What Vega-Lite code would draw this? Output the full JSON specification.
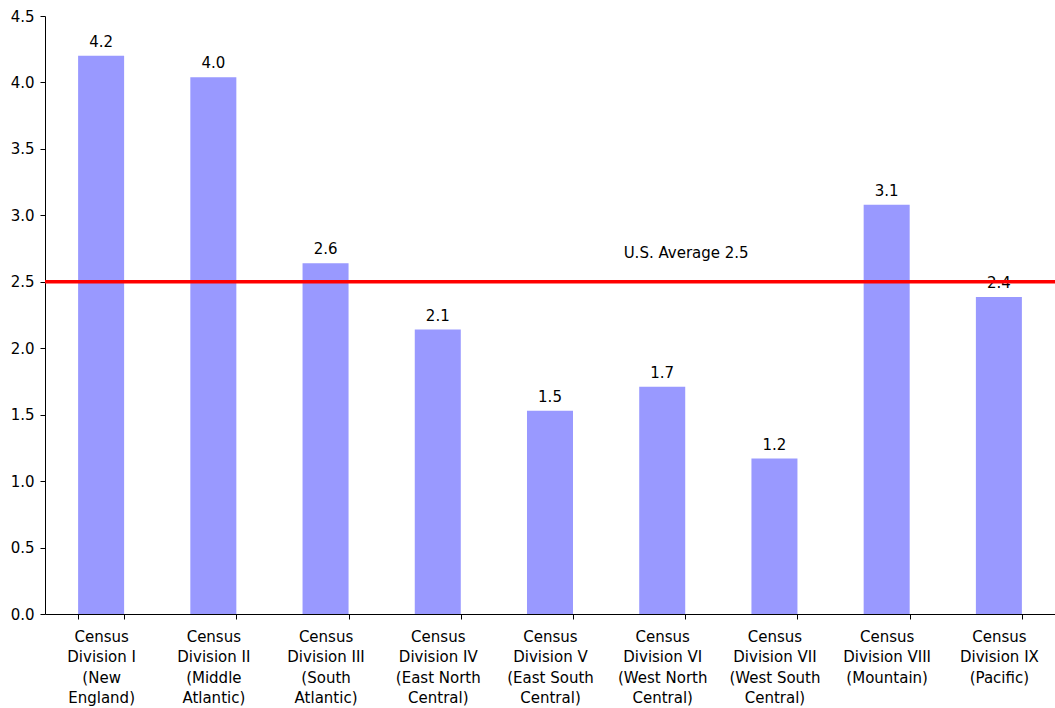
{
  "$schema": "https://vega.github.io/schema/vega-lite/v6.json",
  "width": 1010,
  "height": 598,
  "autosize": {"type": "none"},
  "padding": {"left": 45, "top": 16, "right": 0, "bottom": 94},
  "config": {
    "font": "DejaVu Sans",
    "view": {"stroke": null},
    "axis": {"grid": false, "domainColor": "black", "tickColor": "black", "labelColor": "black", "labelFontSize": 15, "labelFont": "DejaVu Sans", "title": null}
  },
  "data": {
    "values": [
      {"division": "Census|Division I|(New|England)", "value": 4.2},
      {"division": "Census|Division II|(Middle|Atlantic)", "value": 4.04},
      {"division": "Census|Division III|(South|Atlantic)", "value": 2.64},
      {"division": "Census|Division IV|(East North|Central)", "value": 2.14},
      {"division": "Census|Division V|(East South|Central)", "value": 1.53},
      {"division": "Census|Division VI|(West North|Central)", "value": 1.71},
      {"division": "Census|Division VII|(West South|Central)", "value": 1.17},
      {"division": "Census|Division VIII|(Mountain)", "value": 3.08},
      {"division": "Census|Division IX|(Pacific)", "value": 2.385}
    ]
  },
  "layer": [
    {
      "mark": {"type": "bar", "color": "#9999FF"},
      "encoding": {
        "x": {
          "field": "division", "type": "nominal", "sort": null,
          "scale": {
            "domain": [
              "Census|Division I|(New|England)",
              "Census|Division II|(Middle|Atlantic)",
              "Census|Division III|(South|Atlantic)",
              "Census|Division IV|(East North|Central)",
              "Census|Division V|(East South|Central)",
              "Census|Division VI|(West North|Central)",
              "Census|Division VII|(West South|Central)",
              "Census|Division VIII|(Mountain)",
              "Census|Division IX|(Pacific)"
            ],
            "paddingInner": 0.59, "paddingOuter": 0.295
          },
          "axis": {"labelAngle": 0, "labelExpr": "isValid(datum.value) ? split(datum.value, '|') : ''", "labelLineHeight": 20.5, "labelPadding": 10, "tickBand": "extent", "tickSize": 5, "labelBaseline": "top"}
        },
        "y": {
          "field": "value", "type": "quantitative",
          "scale": {"domain": [0, 4.5], "nice": false},
          "axis": {"values": [0, 0.5, 1, 1.5, 2, 2.5, 3, 3.5, 4, 4.5], "format": ".1f", "tickSize": 5, "labelPadding": 6}
        }
      }
    },
    {
      "mark": {"type": "text", "baseline": "bottom", "dy": -6, "fontSize": 15, "color": "black"},
      "encoding": {
        "x": {"field": "division", "type": "nominal", "sort": null},
        "y": {"field": "value", "type": "quantitative"},
        "text": {"field": "value", "type": "quantitative", "format": ".1f"}
      }
    },
    {
      "data": {"values": [{"avg": 2.5}]},
      "mark": {"type": "rule", "color": "#FF0000", "strokeWidth": 3.5},
      "encoding": {"y": {"field": "avg", "type": "quantitative"}}
    },
    {
      "data": {"values": [{"label": "U.S. Average 2.5", "division": "Census|Division VI|(West North|Central)", "pos": 2.72}]},
      "mark": {"type": "text", "fontSize": 15, "color": "black", "baseline": "middle", "align": "center"},
      "encoding": {
        "x": {"field": "division", "type": "nominal", "sort": null, "bandPosition": 1.02},
        "y": {"field": "pos", "type": "quantitative"},
        "text": {"field": "label"}
      }
    }
  ]
}
